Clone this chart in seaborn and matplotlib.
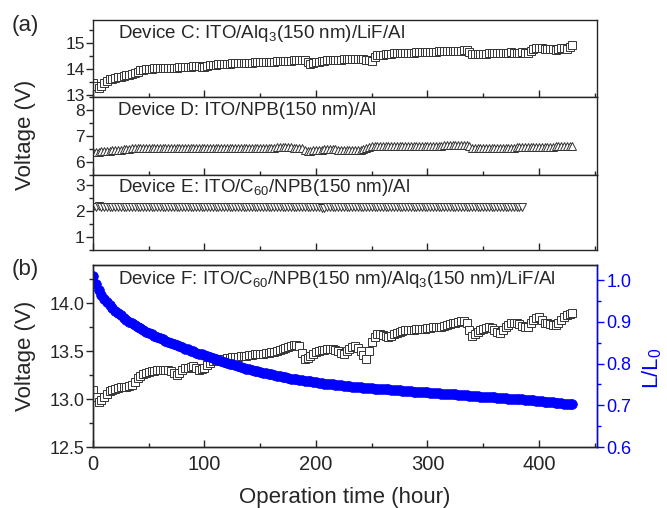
import numpy as np
import pandas as pd
import matplotlib
matplotlib.use("Agg")
import matplotlib.pyplot as plt
from matplotlib.ticker import MultipleLocator, FormatStrFormatter
import seaborn as sns

# operation time (hour), one reading every 2.5 h
hours = [0, 2.5, 5, 7.5, 10, 12.5, 15, 17.5, 20, 22.5,
         25, 27.5, 30, 32.5, 35, 37.5, 40, 42.5, 45, 47.5,
         50, 52.5, 55, 57.5, 60, 62.5, 65, 67.5, 70, 72.5,
         75, 77.5, 80, 82.5, 85, 87.5, 90, 92.5, 95, 97.5,
         100, 102.5, 105, 107.5, 110, 112.5, 115, 117.5, 120, 122.5,
         125, 127.5, 130, 132.5, 135, 137.5, 140, 142.5, 145, 147.5,
         150, 152.5, 155, 157.5, 160, 162.5, 165, 167.5, 170, 172.5,
         175, 177.5, 180, 182.5, 185, 187.5, 190, 192.5, 195, 197.5,
         200, 202.5, 205, 207.5, 210, 212.5, 215, 217.5, 220, 222.5,
         225, 227.5, 230, 232.5, 235, 237.5, 240, 242.5, 245, 247.5,
         250, 252.5, 255, 257.5, 260, 262.5, 265, 267.5, 270, 272.5,
         275, 277.5, 280, 282.5, 285, 287.5, 290, 292.5, 295, 297.5,
         300, 302.5, 305, 307.5, 310, 312.5, 315, 317.5, 320, 322.5,
         325, 327.5, 330, 332.5, 335, 337.5, 340, 342.5, 345, 347.5,
         350, 352.5, 355, 357.5, 360, 362.5, 365, 367.5, 370, 372.5,
         375, 377.5, 380, 382.5, 385, 387.5, 390, 392.5, 395, 397.5,
         400, 402.5, 405, 407.5, 410, 412.5, 415, 417.5, 420, 422.5,
         425, 427.5, 430]

# Device C: ITO/Alq3(150 nm)/LiF/Al
volt_c = [13.45, 13.35, 13.25, 13.35, 13.45, 13.55, 13.60, 13.62, 13.65, 13.68,
          13.70, 13.72, 13.75, 13.78, 13.82, 13.86, 13.90, 13.94, 13.97, 13.99,
          14.00, 14.01, 14.02, 14.02, 14.03, 14.03, 14.04, 14.04, 14.05, 14.05,
          14.05, 14.06, 14.07, 14.07, 14.08, 14.09, 14.10, 14.11, 14.12, 14.08,
          14.06, 14.12, 14.15, 14.16, 14.17, 14.18, 14.19, 14.19, 14.20, 14.20,
          14.21, 14.21, 14.22, 14.22, 14.23, 14.23, 14.24, 14.24, 14.25, 14.25,
          14.26, 14.26, 14.27, 14.27, 14.28, 14.28, 14.29, 14.29, 14.30, 14.30,
          14.31, 14.32, 14.33, 14.34, 14.35, 14.36, 14.36, 14.28, 14.20, 14.22,
          14.25, 14.28, 14.30, 14.32, 14.33, 14.34, 14.35, 14.35, 14.36, 14.36,
          14.37, 14.37, 14.37, 14.38, 14.38, 14.38, 14.38, 14.37, 14.36, 14.33,
          14.30, 14.45, 14.52, 14.54, 14.55, 14.56, 14.57, 14.58, 14.60, 14.60,
          14.61, 14.61, 14.62, 14.62, 14.63, 14.63, 14.64, 14.64, 14.65, 14.65,
          14.66, 14.66, 14.66, 14.66, 14.67, 14.67, 14.67, 14.67, 14.68, 14.68,
          14.68, 14.69, 14.70, 14.71, 14.72, 14.65, 14.58, 14.57, 14.56, 14.57,
          14.58, 14.59, 14.60, 14.60, 14.60, 14.61, 14.62, 14.62, 14.63, 14.63,
          14.64, 14.63, 14.62, 14.63, 14.64, 14.62, 14.60, 14.70, 14.78, 14.79,
          14.80, 14.79, 14.78, 14.77, 14.76, 14.75, 14.74, 14.77, 14.80, 14.79,
          14.78, 14.85, 14.92]

# Device D: ITO/NPB(150 nm)/Al
volt_d = [6.38, 6.39, 6.40, 6.41, 6.42, 6.43, 6.44, 6.45, 6.46, 6.47,
          6.48, 6.49, 6.50, 6.51, 6.52, 6.52, 6.53, 6.53, 6.54, 6.54,
          6.54, 6.54, 6.53, 6.53, 6.53, 6.53, 6.54, 6.54, 6.54, 6.54,
          6.53, 6.53, 6.53, 6.53, 6.54, 6.54, 6.54, 6.54, 6.53, 6.53,
          6.53, 6.53, 6.54, 6.54, 6.54, 6.53, 6.53, 6.53, 6.53, 6.53,
          6.54, 6.54, 6.54, 6.54, 6.53, 6.53, 6.54, 6.54, 6.55, 6.55,
          6.55, 6.55, 6.54, 6.54, 6.55, 6.55, 6.56, 6.56, 6.56, 6.56,
          6.56, 6.56, 6.55, 6.55, 6.55, 6.52, 6.45, 6.44, 6.44, 6.45,
          6.47, 6.47, 6.48, 6.49, 6.50, 6.50, 6.50, 6.49, 6.48, 6.47,
          6.46, 6.46, 6.46, 6.45, 6.45, 6.46, 6.47, 6.50, 6.55, 6.58,
          6.60, 6.61, 6.62, 6.62, 6.62, 6.62, 6.63, 6.63, 6.63, 6.63,
          6.62, 6.62, 6.62, 6.63, 6.63, 6.63, 6.63, 6.62, 6.62, 6.62,
          6.63, 6.63, 6.63, 6.63, 6.63, 6.63, 6.64, 6.64, 6.64, 6.64,
          6.64, 6.64, 6.64, 6.65, 6.65, 6.60, 6.55, 6.54, 6.53, 6.53,
          6.53, 6.53, 6.54, 6.54, 6.54, 6.54, 6.55, 6.55, 6.55, 6.55,
          6.55, 6.55, 6.56, 6.56, 6.56, 6.56, 6.56, 6.56, 6.56, 6.56,
          6.56, 6.57, 6.58, 6.58, 6.59, 6.59, 6.60, 6.60, 6.61, 6.61,
          6.61, 6.62, 6.62]

# Device E: ITO/C60/NPB(150 nm)/Al, measured up to 385 h
volt_e = [2.16, 2.17, 2.18, 2.17, 2.17, 2.16, 2.15, 2.15, 2.14, 2.14,
          2.15, 2.15, 2.16, 2.15, 2.14, 2.14, 2.15, 2.15, 2.16, 2.16,
          2.15, 2.15, 2.14, 2.14, 2.15, 2.15, 2.16, 2.16, 2.15, 2.15,
          2.15, 2.15, 2.14, 2.14, 2.15, 2.15, 2.16, 2.16, 2.15, 2.15,
          2.15, 2.15, 2.14, 2.14, 2.15, 2.15, 2.16, 2.16, 2.16, 2.16,
          2.15, 2.15, 2.15, 2.15, 2.14, 2.14, 2.15, 2.15, 2.15, 2.15,
          2.16, 2.16, 2.16, 2.16, 2.15, 2.15, 2.15, 2.15, 2.14, 2.14,
          2.14, 2.14, 2.15, 2.15, 2.15, 2.15, 2.16, 2.16, 2.15, 2.15,
          2.14, 2.14, 2.13, 2.13, 2.14, 2.14, 2.15, 2.15, 2.15, 2.15,
          2.16, 2.16, 2.16, 2.16, 2.15, 2.15, 2.15, 2.15, 2.15, 2.15,
          2.14, 2.14, 2.15, 2.15, 2.15, 2.15, 2.16, 2.16, 2.15, 2.15,
          2.15, 2.15, 2.15, 2.15, 2.14, 2.14, 2.15, 2.15, 2.15, 2.15,
          2.16, 2.16, 2.15, 2.15, 2.15, 2.15, 2.15, 2.15, 2.14, 2.14,
          2.15, 2.15, 2.15, 2.15, 2.15, 2.15, 2.16, 2.16, 2.15, 2.15,
          2.14, 2.14, 2.15, 2.15, 2.15, 2.15, 2.15, 2.15, 2.15, 2.15,
          2.16, 2.16, 2.16, 2.16, 2.15]

# Device F: ITO/C60/NPB/Alq3/LiF/Al - driving voltage
volt_f = [13.10, 13.02, 12.97, 12.99, 13.02, 13.05, 13.08, 13.10, 13.11, 13.12,
          13.13, 13.13, 13.13, 13.14, 13.15, 13.18, 13.22, 13.24, 13.26, 13.27,
          13.28, 13.29, 13.29, 13.30, 13.30, 13.30, 13.30, 13.30, 13.29, 13.27,
          13.25, 13.27, 13.30, 13.32, 13.33, 13.34, 13.35, 13.33, 13.30, 13.31,
          13.33, 13.36, 13.38, 13.40, 13.41, 13.41, 13.42, 13.42, 13.43, 13.43,
          13.44, 13.44, 13.44, 13.45, 13.45, 13.45, 13.46, 13.46, 13.47, 13.47,
          13.47, 13.47, 13.48, 13.48, 13.49, 13.49, 13.50, 13.51, 13.52, 13.53,
          13.54, 13.55, 13.56, 13.56, 13.55, 13.48, 13.42, 13.43, 13.45, 13.47,
          13.49, 13.50, 13.51, 13.51, 13.52, 13.52, 13.52, 13.51, 13.50, 13.48,
          13.47, 13.50, 13.52, 13.54, 13.55, 13.53, 13.50, 13.46, 13.42, 13.50,
          13.60, 13.65, 13.68, 13.68, 13.67, 13.66, 13.65, 13.66, 13.68, 13.69,
          13.70, 13.71, 13.72, 13.72, 13.72, 13.72, 13.73, 13.73, 13.73, 13.73,
          13.74, 13.74, 13.75, 13.75, 13.75, 13.75, 13.76, 13.77, 13.78, 13.79,
          13.80, 13.81, 13.82, 13.82, 13.80, 13.72, 13.66, 13.68, 13.70, 13.72,
          13.73, 13.74, 13.75, 13.74, 13.72, 13.70, 13.69, 13.72, 13.75, 13.77,
          13.79, 13.79, 13.79, 13.78, 13.76, 13.75, 13.75, 13.79, 13.83, 13.85,
          13.86, 13.83, 13.80, 13.79, 13.78, 13.77, 13.77, 13.80, 13.83, 13.86,
          13.88, 13.89, 13.90]

# Device F: normalised luminance L/L0
lum_f = [1.010, 0.990, 0.975, 0.964, 0.955, 0.947, 0.940, 0.933, 0.927, 0.921,
         0.916, 0.910, 0.905, 0.900, 0.896, 0.892, 0.888, 0.884, 0.880, 0.876,
         0.873, 0.870, 0.867, 0.864, 0.861, 0.858, 0.855, 0.852, 0.849, 0.846,
         0.844, 0.841, 0.839, 0.836, 0.834, 0.831, 0.829, 0.826, 0.824, 0.822,
         0.820, 0.817, 0.815, 0.813, 0.811, 0.808, 0.806, 0.804, 0.802, 0.800,
         0.798, 0.796, 0.794, 0.792, 0.790, 0.788, 0.787, 0.785, 0.783, 0.781,
         0.780, 0.778, 0.777, 0.775, 0.774, 0.772, 0.771, 0.769, 0.768, 0.767,
         0.766, 0.764, 0.763, 0.762, 0.761, 0.760, 0.759, 0.758, 0.757, 0.756,
         0.755, 0.754, 0.753, 0.752, 0.752, 0.751, 0.750, 0.749, 0.749, 0.748,
         0.747, 0.746, 0.746, 0.745, 0.745, 0.744, 0.743, 0.742, 0.742, 0.741,
         0.741, 0.740, 0.740, 0.739, 0.739, 0.738, 0.738, 0.737, 0.737, 0.736,
         0.736, 0.735, 0.735, 0.734, 0.734, 0.733, 0.733, 0.732, 0.732, 0.731,
         0.731, 0.730, 0.730, 0.729, 0.729, 0.728, 0.728, 0.727, 0.727, 0.726,
         0.726, 0.725, 0.725, 0.724, 0.724, 0.723, 0.723, 0.722, 0.722, 0.721,
         0.721, 0.720, 0.720, 0.719, 0.719, 0.718, 0.718, 0.717, 0.717, 0.716,
         0.716, 0.715, 0.715, 0.714, 0.714, 0.713, 0.713, 0.712, 0.712, 0.711,
         0.711, 0.710, 0.709, 0.708, 0.708, 0.707, 0.706, 0.706, 0.705, 0.704,
         0.704, 0.703, 0.703]

sns.set_style("ticks")
plt.rcParams['font.family'] = ['Liberation Sans', 'DejaVu Sans']
plt.rcParams['mathtext.fontset'] = 'custom'
plt.rcParams['mathtext.rm'] = 'Liberation Sans'
plt.rcParams['mathtext.it'] = 'Liberation Sans'
plt.rcParams['axes.linewidth'] = 1.0

fig = plt.figure(figsize=(6.67, 5.08), dpi=100)
L, W = 0.1394, 0.7556
ax_c = fig.add_axes([L, 0.809, W, 0.1516])
ax_d = fig.add_axes([L, 0.6555, W, 0.1535])
ax_e = fig.add_axes([L, 0.5079, W, 0.1476])
ax_b = fig.add_axes([L, 0.12, W, 0.3583])
ax_r = ax_b.twinx()

sq = dict(markersize=5.2, markerfacecolor='white', markeredgecolor='#333333',
          markeredgewidth=0.7, linestyle='none', color='#333333')

sns.lineplot(x=hours, y=volt_c, marker='s', ax=ax_c, **sq)
sns.lineplot(x=hours, y=volt_d, marker='^', ax=ax_d, **sq)
sns.lineplot(x=hours[:len(volt_e)], y=volt_e, marker='v', ax=ax_e, **sq)
sns.lineplot(x=hours, y=volt_f, marker='s', ax=ax_b, **sq)
sns.lineplot(x=hours, y=lum_f, marker='o', ax=ax_r, linestyle='none', color='#0000ff',
             markersize=7, markerfacecolor='#0000ff', markeredgecolor='#0000ff',
             markeredgewidth=0.5)

panels = [
    (ax_c, (12.92, 15.88), r"Device C: ITO/Alq$_3$(150 nm)/LiF/Al"),
    (ax_d, (5.5, 8.5), "Device D: ITO/NPB(150 nm)/Al"),
    (ax_e, (0.5, 3.38), r"Device E: ITO/C$_{60}$/NPB(150 nm)/Al"),
]
for ax, ylim, label in panels:
    ax.set_xlim(0, 452)
    ax.set_ylim(*ylim)
    ax.yaxis.set_major_locator(MultipleLocator(1))
    ax.yaxis.set_minor_locator(MultipleLocator(0.5))
    ax.xaxis.set_major_locator(MultipleLocator(100))
    ax.xaxis.set_minor_locator(MultipleLocator(50))
    ax.tick_params(axis='x', which='both', direction='in', labelbottom=False)
    ax.tick_params(axis='x', which='major', length=5, width=1)
    ax.tick_params(axis='x', which='minor', length=3, width=1)
    ax.tick_params(axis='y', which='major', direction='out', length=5, width=1, labelsize=12.5, pad=1)
    ax.tick_params(axis='y', which='minor', direction='out', length=3, width=1)
    for s in ax.spines.values():
        s.set_visible(True)
        s.set_linewidth(1.0)
    ax.set_xlabel('')
    ax.set_ylabel('')
    ax.text(0.05, 0.83, label, transform=ax.transAxes, fontsize=13.5, va='center', ha='left')

ax_b.set_xlim(0, 452)
ax_b.set_ylim(12.5, 14.4)
ax_r.set_ylim(0.6, 1.036)
ax_b.xaxis.set_major_locator(MultipleLocator(100))
ax_b.xaxis.set_minor_locator(MultipleLocator(50))
ax_b.yaxis.set_major_locator(MultipleLocator(0.5))
ax_b.yaxis.set_minor_locator(MultipleLocator(0.25))
ax_r.yaxis.set_major_locator(MultipleLocator(0.1))
ax_r.yaxis.set_minor_locator(MultipleLocator(0.05))
ax_b.tick_params(axis='x', which='major', direction='in', length=5, width=1, labelsize=14.5, pad=6)
ax_b.tick_params(axis='x', which='minor', direction='in', length=3, width=1)
ax_b.tick_params(axis='y', which='major', direction='out', length=5, width=1, labelsize=13, pad=1)
ax_b.tick_params(axis='y', which='minor', direction='out', length=3, width=1)
ax_r.tick_params(axis='y', which='major', direction='out', length=5, width=1, labelsize=13,
                 colors='#0000ff', pad=2)
ax_r.tick_params(axis='y', which='minor', direction='out', length=3, width=1, colors='#0000ff')
ax_b.yaxis.set_major_formatter(FormatStrFormatter('%.1f'))
ax_r.yaxis.set_major_formatter(FormatStrFormatter('%.1f'))
for s in ax_r.spines.values():
    s.set_linewidth(1.0)
ax_r.spines['right'].set_color('#0000ff')
ax_b.set_xlabel('Operation time (hour)', fontsize=16, labelpad=9)
ax_b.set_ylabel('')
ax_r.set_ylabel('')
ax_b.text(0.05, 0.92, r"Device F: ITO/C$_{60}$/NPB(150 nm)/Alq$_3$(150 nm)/LiF/Al",
          transform=ax_b.transAxes, fontsize=13.5, va='center', ha='left')

fig.text(25 / 667, 1 - 135 / 508, 'Voltage (V)', rotation=90, fontsize=16, ha='center', va='center')
fig.text(25 / 667, 1 - 356 / 508, 'Voltage (V)', rotation=90, fontsize=16, ha='center', va='center')
fig.text(652 / 667, 1 - 368 / 508, r'L/L$_0$', rotation=90, fontsize=16, ha='center', va='center',
         color='#0000ff')
fig.text(25 / 667, 1 - 25 / 508, '(a)', fontsize=16, ha='center', va='center')
fig.text(25 / 667, 1 - 270 / 508, '(b)', fontsize=16, ha='center', va='center')

fig.savefig('out.png', dpi=100)
